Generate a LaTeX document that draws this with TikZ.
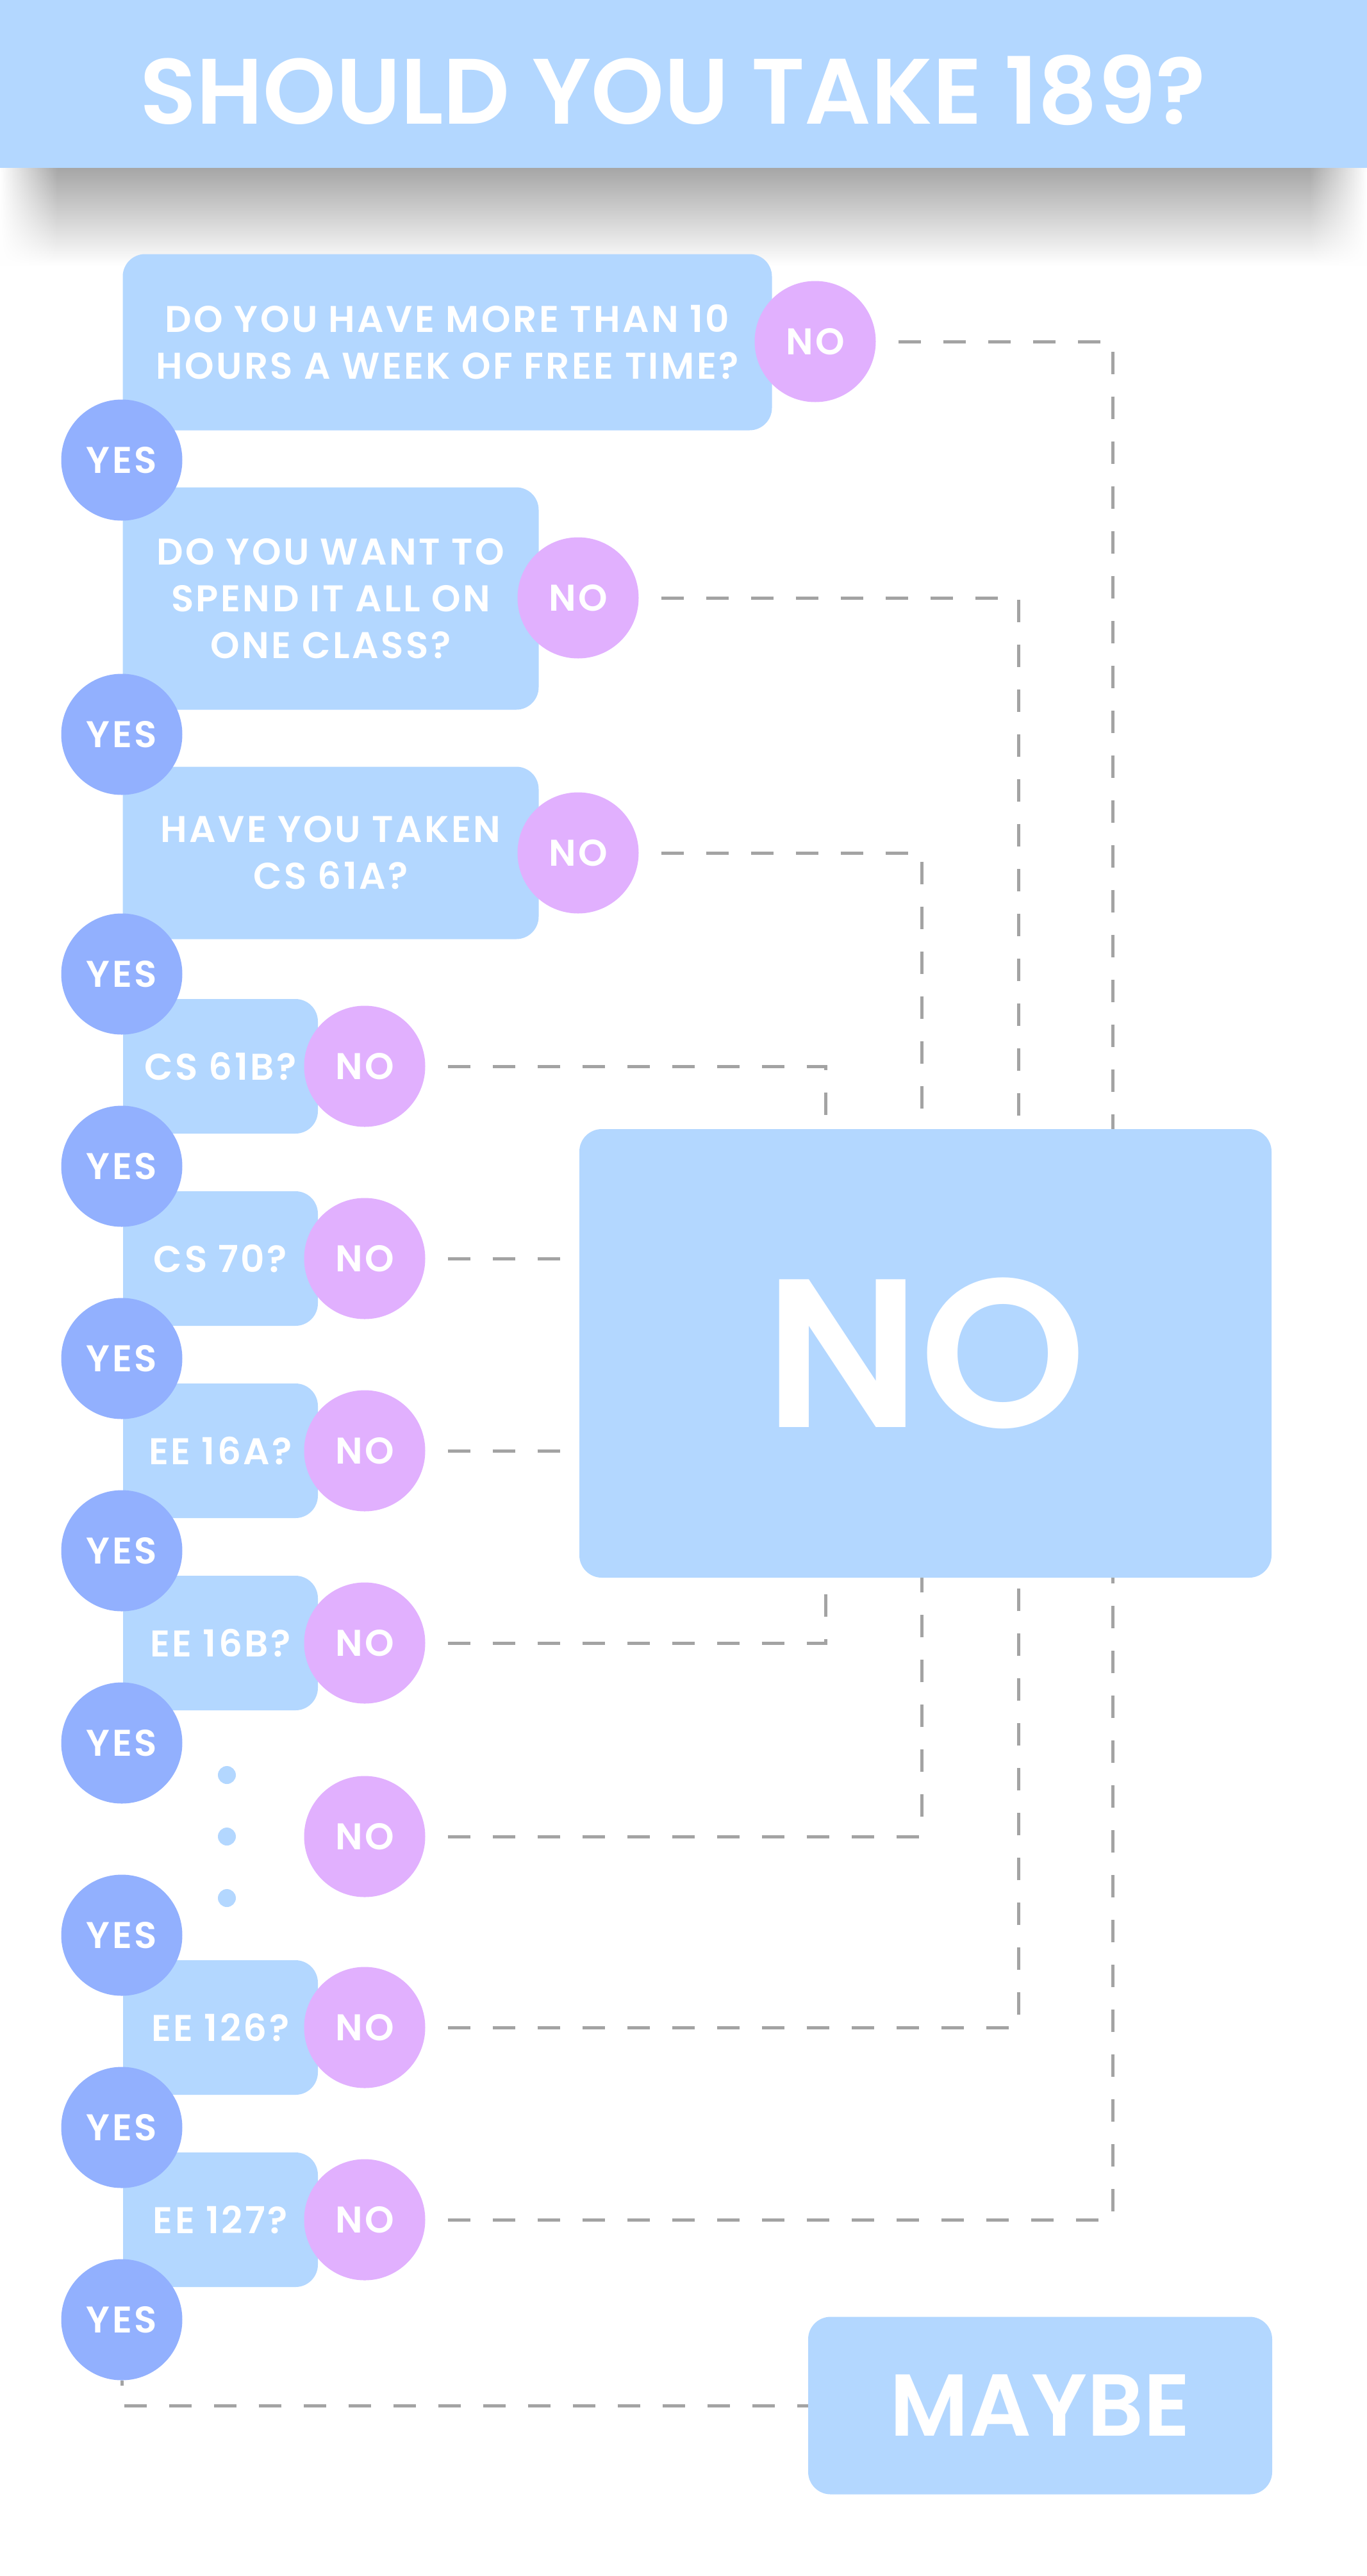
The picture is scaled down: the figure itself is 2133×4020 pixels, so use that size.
\documentclass[tikz,border=0pt]{standalone}
\usepackage{fontspec}
\setmainfont{Poppins}[BoldFont={Poppins SemiBold}]
\usetikzlibrary{fadings}

\definecolor{boxblue}{RGB}{179,215,255}
\definecolor{yesblue}{RGB}{146,176,254}
\definecolor{nopurple}{RGB}{225,176,254}
\definecolor{linegray}{RGB}{163,163,163}
\definecolor{shadowgray}{RGB}{166,166,166}

\tikzfading[name=sidefadeL, left color=transparent!0, right color=transparent!100]
\tikzfading[name=sidefadeR, left color=transparent!100, right color=transparent!0]

\tikzset{
  qbox/.style={fill=boxblue, rounded corners=35pt, inner sep=0pt, text=white, align=center, font=\fontsize{58}{73}\selectfont\bfseries\addfontfeature{LetterSpace=6}},
  yesdot/.style={circle, fill=yesblue, minimum size=189pt, inner sep=0pt, text=white, font=\fontsize{58}{70}\selectfont\bfseries\addfontfeature{LetterSpace=6}},
  nodot/.style={circle, fill=nopurple, minimum size=189pt, inner sep=0pt, text=white, font=\fontsize{58}{70}\selectfont\bfseries\addfontfeature{LetterSpace=6}},
  nolink/.style={draw=linegray, line width=5pt, dash pattern=on 35pt off 35pt, dash phase=35pt}
}

\begin{document}
\begin{tikzpicture}[x=1pt,y=1pt,yscale=-1,xscale=1]
\useasboundingbox (0,0) rectangle (2133,4020);
% title bar
\fill[boxblue] (0,0) rectangle (2133,262);
\shade[top color=shadowgray, bottom color=white] (0,262) rectangle (2133,415);
\fill[white, path fading=sidefadeL] (0,262) rectangle (90,415);
\fill[white, path fading=sidefadeR] (2043,262) rectangle (2133,415);
\node[text=white, font=\fontsize{145}{150}\selectfont\bfseries] (title) at (1050,141) {SHOULD YOU TAKE 189?};

% questions
\node[qbox, minimum width=1013pt, minimum height=275pt] (q1) at (698,534) {DO YOU HAVE MORE THAN 10\\HOURS A WEEK OF FREE TIME?};
\node[qbox, minimum width=649pt, minimum height=347pt] (q2) at (516,934) {DO YOU WANT TO\\SPEND IT ALL ON\\ONE CLASS?};
\node[qbox, minimum width=649pt, minimum height=269pt] (q3) at (516,1331) {HAVE YOU TAKEN\\CS 61A?};
\node[qbox, minimum width=304pt, minimum height=210pt] (q4) at (344,1664) {CS 61B?};
\node[qbox, minimum width=304pt, minimum height=210pt] (q5) at (344,1964) {CS 70?};
\node[qbox, minimum width=304pt, minimum height=210pt] (q6) at (344,2264) {EE 16A?};
\node[qbox, minimum width=304pt, minimum height=210pt] (q7) at (344,2564) {EE 16B?};
\node[qbox, minimum width=304pt, minimum height=210pt] (q8) at (344,3164) {EE 126?};
\node[qbox, minimum width=304pt, minimum height=210pt] (q9) at (344,3464) {EE 127?};

% answers
\node[qbox, minimum width=1080pt, minimum height=700pt, font=\fontsize{330}{330}\selectfont\bfseries] (bigno) at (1444,2112) {NO};
\node[qbox, minimum width=724pt, minimum height=277pt, font=\fontsize{137}{140}\selectfont\bfseries] (maybe) at (1623,3754) {MAYBE};

% yes
\node[yesdot] (yes1) at (190,718) {YES};
\node[yesdot] (yes2) at (190,1146) {YES};
\node[yesdot] (yes3) at (190,1520) {YES};
\node[yesdot] (yes4) at (190,1820) {YES};
\node[yesdot] (yes5) at (190,2120) {YES};
\node[yesdot] (yes6) at (190,2420) {YES};
\node[yesdot] (yes7) at (190,2720) {YES};
\node[yesdot] (yes8) at (190,3020) {YES};
\node[yesdot] (yes9) at (190,3320) {YES};
\node[yesdot] (yes10) at (190,3620) {YES};

% no
\node[nodot] (no1) at (1272,533) {NO};
\node[nodot] (no2) at (902,933) {NO};
\node[nodot] (no3) at (902,1331) {NO};
\node[nodot] (no4) at (569,1664) {NO};
\node[nodot] (no5) at (569,1964) {NO};
\node[nodot] (no6) at (569,2264) {NO};
\node[nodot] (no7) at (569,2564) {NO};
\node[nodot] (no8) at (569,2866) {NO};
\node[nodot] (no9) at (569,3164) {NO};
\node[nodot] (no10) at (569,3464) {NO};

% ellipsis
\fill[boxblue] (354,2770) circle (14);
\fill[boxblue] (354,2866) circle (14);
\fill[boxblue] (354,2962) circle (14);

% dashed links
\coordinate (top1) at (1288,1762);
\coordinate (top2) at (1438,1762);
\coordinate (top3) at (1589,1762);
\coordinate (top4) at (1736,1762);
\coordinate (bot1) at (1288,2462);
\coordinate (bot2) at (1438,2462);
\coordinate (bot3) at (1589,2462);
\coordinate (bot4) at (1736,2462);
\draw[nolink] (no1.east) -| (top4);
\draw[nolink] (no2.east) -| (top3);
\draw[nolink] (no3.east) -| (top2);
\draw[nolink] (no4.east) -| (top1);
\draw[nolink] (no5.east) -- (no5 -| bigno.west);
\draw[nolink] (no6.east) -- (no6 -| bigno.west);
\draw[nolink] (no7.east) -| (bot1);
\draw[nolink] (no8.east) -| (bot2);
\draw[nolink] (no9.east) -| (bot3);
\draw[nolink] (no10.east) -| (bot4);
\draw[nolink, dash phase=27pt] (yes10.south) |- (maybe.west);
\end{tikzpicture}
\end{document}
